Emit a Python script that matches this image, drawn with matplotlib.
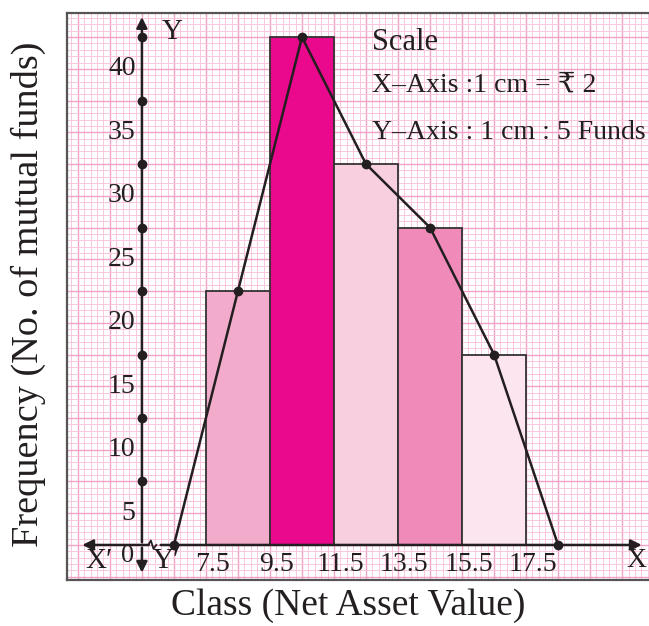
import numpy as np
import matplotlib
matplotlib.use("Agg")
import matplotlib.pyplot as plt

# Data
class_edges = [7.5, 9.5, 11.5, 13.5, 15.5, 17.5]
frequencies = [20, 40, 30, 25, 15]
bar_colors = ["#f3abcc", "#ea088c", "#f8cfdf", "#f08bb9", "#fde5ef"]
x_tick_labels = ["7.5", "9.5", "11.5", "13.5", "15.5", "17.5"]
y_ticks = [5, 10, 15, 20, 25, 30, 35, 40]

X_ORIGIN = 5.5          # data value sitting on the (broken) y-axis
XMIN, XMAX = 3.16, 21.34
YMIN, YMAX = -2.76, 41.9
SERIF = ["Liberation Serif", "DejaVu Serif", "DejaVu Sans"]
INK = "#231f20"

fig = plt.figure(figsize=(6.49, 6.26), dpi=100)
ax = fig.add_axes([67 / 649, 46 / 626, 582 / 649, 567 / 626])
ax.set_xlim(XMIN, XMAX)
ax.set_ylim(YMIN, YMAX)
ax.set_xticks([])
ax.set_yticks([])
for side in ["left", "top", "bottom"]:
    ax.spines[side].set_color("#555555")
    ax.spines[side].set_linewidth(1.6)
ax.spines["right"].set_visible(False)

# graph paper
nx = int(np.ceil((X_ORIGIN - XMIN) / 0.2))
xs = X_ORIGIN - 0.2 * nx + 0.2 * np.arange(int((XMAX - XMIN) / 0.2) + 2)
for i, x in enumerate(xs):
    major = (i - nx) % 5 == 0
    ax.axvline(x, color="#f1a3c7" if major else "#f9c6dd", lw=1.0 if major else 0.7, zorder=0)
ny = int(np.ceil(-YMIN / 0.5))
ys = -0.5 * ny + 0.5 * np.arange(int((YMAX - YMIN) / 0.5) + 2)
for i, y in enumerate(ys):
    major = (i - ny) % 5 == 0
    ax.axhline(y, color="#f1a3c7" if major else "#f9c6dd", lw=1.0 if major else 0.7, zorder=0)

# histogram bars
lefts = class_edges[:-1]
widths = np.diff(class_edges)
ax.bar(lefts, frequencies, width=widths, align="edge", color=bar_colors,
       edgecolor="#333333", linewidth=1.3, zorder=2)

# frequency polygon
mids = [(a + b) / 2 for a, b in zip(class_edges[:-1], class_edges[1:])]
poly_x = [mids[0] - widths[0]] + mids + [mids[-1] + widths[-1]]
poly_y = [0] + frequencies + [0]
ax.plot(poly_x, poly_y, color=INK, lw=1.8, marker="o", ms=6, zorder=4)

# axes with arrows
arrow = dict(arrowstyle="-|>", color=INK, lw=1.8, mutation_scale=16)
ax.annotate("", xy=(21.2, 0), xytext=(6.0, 0), arrowprops=arrow, zorder=5)
ax.annotate("", xy=(3.55, 0), xytext=(5.8, 0), arrowprops=arrow, zorder=5)
ax.plot([5.7, 5.78, 5.86, 5.95], [0, 0.35, -0.3, 0], color=INK, lw=1.3, zorder=5)
ax.annotate("", xy=(X_ORIGIN, 41.8), xytext=(X_ORIGIN, 0), arrowprops=arrow, zorder=5)
ax.annotate("", xy=(X_ORIGIN, -2.4), xytext=(X_ORIGIN, 0), arrowprops=arrow, zorder=5)
ax.plot([X_ORIGIN] * len(y_ticks), y_ticks, "o", color=INK, ms=6, zorder=5)

# tick labels (offset like the textbook figure)
for x, lab in zip(class_edges, x_tick_labels):
    ax.text(x + 0.2, -1.55, lab, ha="center", va="center", fontsize=20,
            family=SERIF, color=INK)
for v in y_ticks:
    ax.text(X_ORIGIN - 0.2, v - 2.5, str(v), ha="right", va="center", fontsize=20,
            family=SERIF, color=INK)
ax.text(4.15, -1.3, "X′", ha="center", va="center", fontsize=21, family=SERIF, color=INK)
ax.text(X_ORIGIN - 0.45, -0.9, "0", ha="center", va="center", fontsize=19, family=SERIF,
        color=INK)
ax.text(6.25, -1.3, "Y′", ha="center", va="center", fontsize=21, family=SERIF, color=INK)
ax.text(20.95, -1.25, "X", ha="center", va="center", fontsize=20, family=SERIF, color=INK)
ax.text(X_ORIGIN + 0.95, 40.4, "Y", ha="center", va="center", fontsize=21, family=SERIF,
        color=INK)

# scale note
ax.text(12.7, 39.6, "Scale", ha="left", va="center", fontsize=22, family=SERIF, color=INK)
ax.text(12.7, 36.2, "X–Axis :1 cm = ₹ 2", ha="left", va="center", fontsize=20,
        family=SERIF, color=INK)
ax.text(12.7, 32.5, "Y–Axis : 1 cm : 5 Funds", ha="left", va="center", fontsize=20,
        family=SERIF, color=INK)

fig.text(348 / 649, 1 - 606 / 626, "Class (Net Asset Value)", ha="center", va="center",
         fontsize=27, family=SERIF, color=INK)
fig.text(28 / 649, 1 - 294 / 626, "Frequency (No. of mutual funds)", ha="center",
         va="center", rotation=90, fontsize=27.5, family=SERIF, color=INK)

fig.savefig("out.png", dpi=100)
